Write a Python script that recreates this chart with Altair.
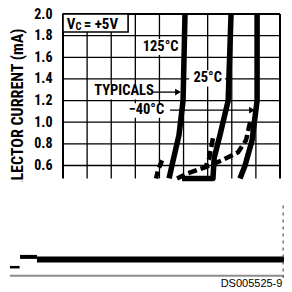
import altair as alt
import pandas as pd

FONT = "Roboto Condensed, Roboto, Liberation Sans, sans-serif"

# ---- axis / grid values ----
y_ticks = [0.6, 0.8, 1.0, 1.2, 1.4, 1.6, 1.8, 2.0]
grid_x = [1, 2, 3, 4, 5, 6, 7, 8]
grid_y = [0.6, 0.8, 1.0, 1.2, 1.4, 1.6, 1.8]
x_lo, x_hi = 0.0, 9.0
y_lo, y_top = 0.48, 2.0

# ---- curves ----
c125_x = [5.06, 4.98, 4.81, 4.52, 4.40]
c125_y = [2.00, 1.20, 0.88, 0.60, 0.48]
c25_x = [6.97, 6.85, 6.51, 6.27, 6.22, 4.94]
c25_y = [2.00, 1.20, 0.88, 0.67, 0.48, 0.48]
cm40_x = [8.05, 8.05, 7.84, 7.55, 7.34]
cm40_y = [2.00, 1.20, 0.83, 0.60, 0.48]

dm40_x = [7.76, 7.59, 7.26, 6.60, 5.89, 5.19, 4.73]
dm40_y = [1.00, 0.833, 0.722, 0.648, 0.583, 0.528, 0.48]
d25_x = [6.22, 6.06, 5.89]
d25_y = [0.852, 0.667, 0.574]
d125_x = [4.11, 3.94, 3.86]
d125_y = [0.648, 0.556, 0.48]

# ---- labels ----
lab_text = ["125°C", "25°C", "TYPICALS", "\u221240°C"]
lab_x = [4.05, 6.0, 2.53, 3.46]
lab_y = [1.694, 1.407, 1.287, 1.111]
bg_x = [3.20, 5.23, 1.29, 2.53]
bg_x2 = [4.90, 6.72, 3.69, 4.36]
bg_y = [1.77, 1.48, 1.35, 1.176]
bg_y2 = [1.62, 1.33, 1.21, 1.04]

arrow_x = [3.69, 4.44]
arrow_x2 = [4.77, 7.84]
arrow_y = [1.278, 1.111]

# ---- V_C box ----
box_x, box_x2, box_y, box_y2 = 0.0, 2.70, 2.0, 1.833

# ---- scan artefacts at the bottom (bar, bump, dash, gray rule) ----
art_x = [-1.08, -1.78, -2.2, -2.2]
art_x2 = [9.21, -1.08, -1.8, 9.2]
art_y = [-0.27, -0.245, -0.34, -0.42]
art_w = [6, 4, 2.5, 2]
art_c = ["#000000", "#000000", "#000000", "#8c8c8c"]
edge_x, edge_y, edge_y2 = 9.13, 0.23, -0.44
cover_x, cover_x2, cover_y, cover_y2 = -2.7, -0.15, 0.455, -0.20

xs = alt.Scale(domain=[0, 9], nice=False, zero=False)
ys = alt.Scale(domain=[-0.44, 2.0], nice=False, zero=False)

yaxis = alt.Axis(
    values=y_ticks, format=".1f", ticks=False, domain=False, grid=False,
    labelFont=FONT, labelFontSize=14, labelFontWeight="bold", labelColor="black",
    labelPadding=11,
    title="COLLECTOR CURRENT (mA)", titleFont=FONT, titleFontSize=16,
    titleFontWeight="bold", titleColor="black", titleAngle=270,
    titleAlign="right", titleBaseline="middle", titleX=-46, titleY=14)


def X(f):
    return alt.X(f, type="quantitative", scale=xs, axis=None)


def Y(f):
    return alt.Y(f, type="quantitative", scale=ys, axis=yaxis)


vdf = pd.DataFrame({"x": grid_x, "y": [y_lo] * len(grid_x), "y2": [y_top] * len(grid_x)})
vgrid = alt.Chart(vdf).mark_rule(color="black", strokeWidth=1.3).encode(
    x=X("x"), y=Y("y"), y2="y2")
hdf = pd.DataFrame({"y": grid_y, "x": [x_lo] * len(grid_y), "x2": [x_hi] * len(grid_y)})
hgrid = alt.Chart(hdf).mark_rule(color="black", strokeWidth=1.3).encode(
    y=Y("y"), x=X("x"), x2="x2")
fvdf = pd.DataFrame({"x": [x_lo, x_hi], "y": [y_lo, y_lo], "y2": [y_top, y_top]})
frame_v = alt.Chart(fvdf).mark_rule(color="black", strokeWidth=2).encode(
    x=X("x"), y=Y("y"), y2="y2")
ftdf = pd.DataFrame({"y": [y_top], "x": [x_lo], "x2": [x_hi]})
frame_t = alt.Chart(ftdf).mark_rule(color="black", strokeWidth=2).encode(
    y=Y("y"), x=X("x"), x2="x2")


def line(xv, yv, dash=None, w=5.5):
    df = pd.DataFrame({"x": xv, "y": yv, "o": list(range(len(xv)))})
    kw = dict(color="black", strokeWidth=w, strokeCap="butt", strokeJoin="round")
    if dash:
        kw["strokeDash"] = dash
    return alt.Chart(df).mark_line(**kw).encode(x=X("x"), y=Y("y"), order="o:Q")


curves = [
    line(c125_x, c125_y), line(c25_x, c25_y), line(cm40_x, cm40_y),
    line(dm40_x, dm40_y, dash=[9, 4], w=4.5),
    line(d25_x, d25_y, dash=[9, 4], w=4.5),
    line(d125_x, d125_y, dash=[8, 4], w=4.5),
]

lab_df = pd.DataFrame({"t": lab_text, "x": lab_x, "y": lab_y,
                       "bx": bg_x, "bx2": bg_x2, "by": bg_y, "by2": bg_y2})
lab_bg = alt.Chart(lab_df).mark_rect(color="white").encode(
    x=X("bx"), x2="bx2", y=Y("by"), y2="by2")
lab_txt = alt.Chart(lab_df).mark_text(font=FONT, fontSize=14.5, fontWeight="bold",
                                      color="black", baseline="middle").encode(
    x=X("x"), y=Y("y"), text="t:N")

arr_df = pd.DataFrame({"x": arrow_x, "x2": arrow_x2, "y": arrow_y})
arr_line = alt.Chart(arr_df).mark_rule(color="black", strokeWidth=1.3).encode(
    x=X("x"), x2="x2", y=Y("y"))
arr_head = alt.Chart(arr_df).mark_point(shape="triangle-right", filled=True, color="black",
                                        size=45, opacity=1).encode(
    x=X("x2"), y=Y("y"))

box_df = pd.DataFrame({"x": [box_x], "x2": [box_x2], "y": [box_y], "y2": [box_y2]})
box = alt.Chart(box_df).mark_rect(fill="white", stroke="black", strokeWidth=1.6).encode(
    x=X("x"), x2="x2", y=Y("y"), y2="y2")
vc_big = pd.DataFrame({"t": ["V", "= +5V"], "x": [0.16, 0.86], "y": [1.862, 1.862]})
vc_sub = pd.DataFrame({"t": ["C"], "x": [0.52], "y": [1.848]})
vc_txt1 = alt.Chart(vc_big).mark_text(font=FONT, fontWeight="bold", color="black", fontSize=15,
                                      align="left", baseline="alphabetic").encode(
    x=X("x"), y=Y("y"), text="t:N")
vc_txt2 = alt.Chart(vc_sub).mark_text(font=FONT, fontWeight="bold", color="black", fontSize=10.5,
                                      align="left", baseline="alphabetic").encode(
    x=X("x"), y=Y("y"), text="t:N")

art_df = pd.DataFrame({"x": art_x, "x2": art_x2, "y": art_y, "w": art_w, "c": art_c})
art = alt.Chart(art_df).mark_rule().encode(
    x=X("x"), x2="x2", y=Y("y"),
    strokeWidth=alt.StrokeWidth("w:Q", scale=None, legend=None),
    color=alt.Color("c:N", scale=None, legend=None))
edge = alt.Chart(pd.DataFrame({"x": [edge_x], "y": [edge_y], "y2": [edge_y2]})).mark_rule(
    color="#555555", strokeWidth=1.2, strokeDash=[3, 4]).encode(x=X("x"), y=Y("y"), y2="y2")
cover = alt.Chart(pd.DataFrame({"x": [cover_x], "x2": [cover_x2], "y": [cover_y],
                                "y2": [cover_y2]})).mark_rect(color="white").encode(
    x=X("x"), x2="x2", y=Y("y"), y2="y2")
ds = alt.Chart(pd.DataFrame({"t": ["DS005525-9"], "x": [9.1], "y": [-0.52]})).mark_text(
    font="Liberation Sans, Arial, sans-serif", fontSize=11, color="black",
    align="right", baseline="alphabetic").encode(x=X("x"), y=Y("y"), text="t:N")

chart = alt.layer(
    vgrid, hgrid, frame_v, frame_t, lab_bg, *curves,
    lab_txt, arr_line, arr_head, box, vc_txt1, vc_txt2, cover, art, edge, ds,
).properties(
    width=217, height=264,
    autosize=alt.AutoSizeParams(type="none"),
    padding={"left": 55, "top": 6, "right": 4, "bottom": 12},
).configure_view(stroke=None)

chart.save("out.html", embed_options={"renderer": "svg", "actions": False})
